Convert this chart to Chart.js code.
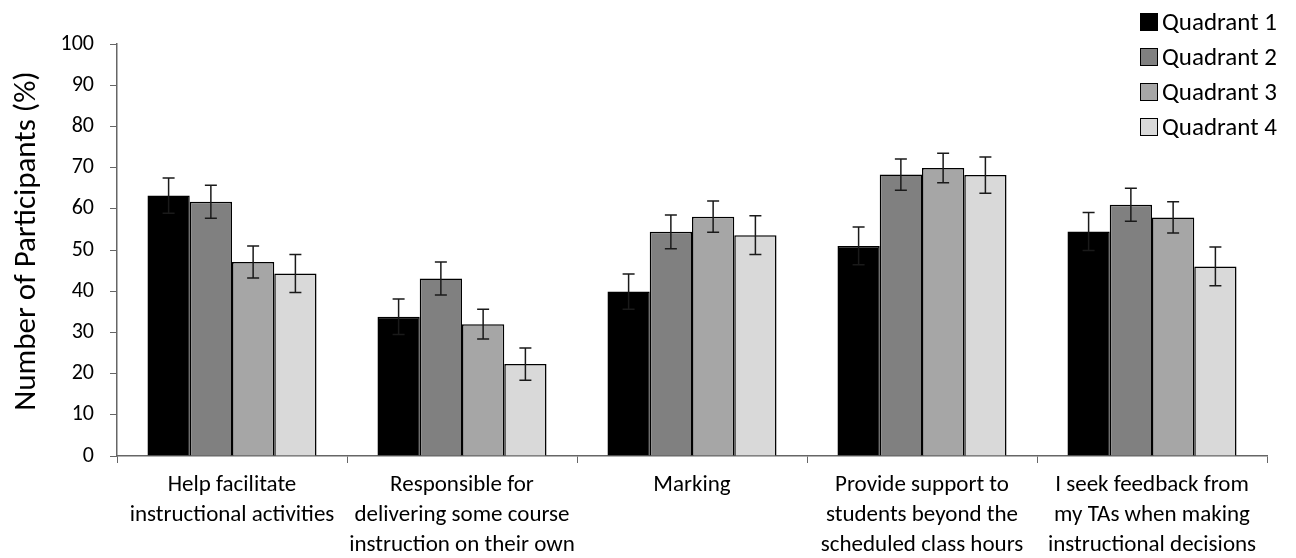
<!DOCTYPE html>
<html>
<head>
<meta charset="utf-8">
<script src="https://cdn.jsdelivr.net/npm/chart.js@4/dist/chart.umd.min.js"></script>
<style>
  html, body { margin: 0; padding: 0; background: #fff; }
  #wrap { position: relative; width: 1296px; height: 558px; }
  #legend { position: absolute; left: 1140px; top: 4px; font-family: Carlito, Lato, sans-serif; font-size: 25px; color: #000; }
  #legend .row { height: 35px; display: flex; align-items: center; }
  #legend .box { width: 16px; height: 16px; border: 1.5px solid #000; margin-right: 4px; }
</style>
</head>
<body>
<div id="wrap">
  <canvas id="c" width="1296" height="558"></canvas>
  <div id="legend"></div>
</div>
<script>
// Survey items (category axis)
const categories = [
  ["Help facilitate", "instructional activities"],
  ["Responsible for", "delivering some course", "instruction on their own"],
  ["Marking"],
  ["Provide support to", "students beyond the", "scheduled class hours"],
  ["I seek feedback from", "my TAs when making", "instructional decisions"]
];

const seriesNames = ["Quadrant 1", "Quadrant 2", "Quadrant 3", "Quadrant 4"];

// Percentage of participants per quadrant
const quadrant1 = [63.2, 33.8, 39.9, 51.0, 54.5];
const quadrant2 = [61.7, 43.1, 54.4, 68.3, 61.0];
const quadrant3 = [47.1, 32.0, 58.1, 69.9, 57.9];
const quadrant4 = [44.3, 22.3, 53.6, 68.2, 46.0];

// Error bar half-widths
const error1 = [4.3, 4.3, 4.3, 4.6, 4.6];
const error2 = [4.0, 4.0, 4.1, 3.8, 4.0];
const error3 = [3.9, 3.6, 3.8, 3.6, 3.8];
const error4 = [4.6, 3.9, 4.7, 4.4, 4.7];

const yTicks = [0, 10, 20, 30, 40, 50, 60, 70, 80, 90, 100];
const yTitle = "Number of Participants (%)";

const fills = ["#000000", "#808080", "#a6a6a6", "#d9d9d9"];
const values = [quadrant1, quadrant2, quadrant3, quadrant4];
const errors = [error1, error2, error3, error4];

const FONT = "Carlito, Lato, sans-serif";

// Vertical error bars with caps, placed through the value scale
const errorBars = {
  id: "errorBars",
  afterDatasetsDraw(chart) {
    const ctx = chart.ctx;
    const y = chart.scales.y;
    ctx.save();
    ctx.strokeStyle = "#1a1a1a";
    ctx.lineWidth = 1.5;
    chart.data.datasets.forEach((ds, i) => {
      const meta = chart.getDatasetMeta(i);
      meta.data.forEach((bar, j) => {
        const v = ds.data[j], e = ds.errors[j];
        const top = y.getPixelForValue(v + e);
        const bot = y.getPixelForValue(v - e);
        const cap = 6;
        ctx.beginPath();
        ctx.moveTo(bar.x, top); ctx.lineTo(bar.x, bot);
        ctx.moveTo(bar.x - cap, top); ctx.lineTo(bar.x + cap, top);
        ctx.moveTo(bar.x - cap, bot); ctx.lineTo(bar.x + cap, bot);
        ctx.stroke();
      });
    });
    ctx.restore();
  }
};

// Rotated y-axis title, sitting slightly above the plot's middle
const axisTitle = {
  id: "axisTitle",
  afterDraw(chart) {
    const ctx = chart.ctx;
    ctx.save();
    ctx.translate(27, 241);
    ctx.rotate(-Math.PI / 2);
    ctx.font = "31px " + FONT;
    ctx.fillStyle = "#000";
    ctx.textAlign = "center";
    ctx.textBaseline = "middle";
    ctx.fillText(yTitle, 0, 0);
    ctx.restore();
  }
};

new Chart(document.getElementById("c"), {
  type: "bar",
  data: {
    labels: categories,
    datasets: seriesNames.map((name, i) => ({
      label: name,
      data: values[i],
      errors: errors[i],
      backgroundColor: fills[i],
      borderColor: "#000",
      borderWidth: 1.5,
      barPercentage: 1.0,
      categoryPercentage: 0.735
    }))
  },
  options: {
    responsive: false,
    animation: false,
    layout: { padding: { top: 44, right: 29, left: 0, bottom: 0 } },
    plugins: { legend: { display: false }, tooltip: { enabled: false } },
    scales: {
      x: {
        grid: { display: true, drawOnChartArea: false, drawTicks: true, tickLength: 7, color: "#666", offset: true },
        border: { color: "#666", width: 1.5 },
        ticks: { color: "#000", font: { family: FONT, size: 23, lineHeight: 1.3 }, padding: 7, maxRotation: 0, autoSkip: false },
        afterFit(s) { s.height = 102; }
      },
      y: {
        min: 0, max: 100,
        afterBuildTicks(s) { s.ticks = yTicks.map(v => ({ value: v })); },
        grid: { display: true, drawOnChartArea: false, drawTicks: true, tickLength: 7, color: "#666" },
        border: { color: "#666", width: 1.5 },
        ticks: { color: "#000", font: { family: FONT, size: 22 }, padding: 16 },
        afterFit(s) { s.width = 117; }
      }
    }
  },
  plugins: [errorBars, axisTitle]
});

// Legend
const leg = document.getElementById("legend");
seriesNames.forEach((name, i) => {
  const row = document.createElement("div");
  row.className = "row";
  const box = document.createElement("div");
  box.className = "box";
  box.style.background = fills[i];
  const txt = document.createElement("span");
  txt.textContent = name;
  row.appendChild(box); row.appendChild(txt);
  leg.appendChild(row);
});
</script>
</body>
</html>
